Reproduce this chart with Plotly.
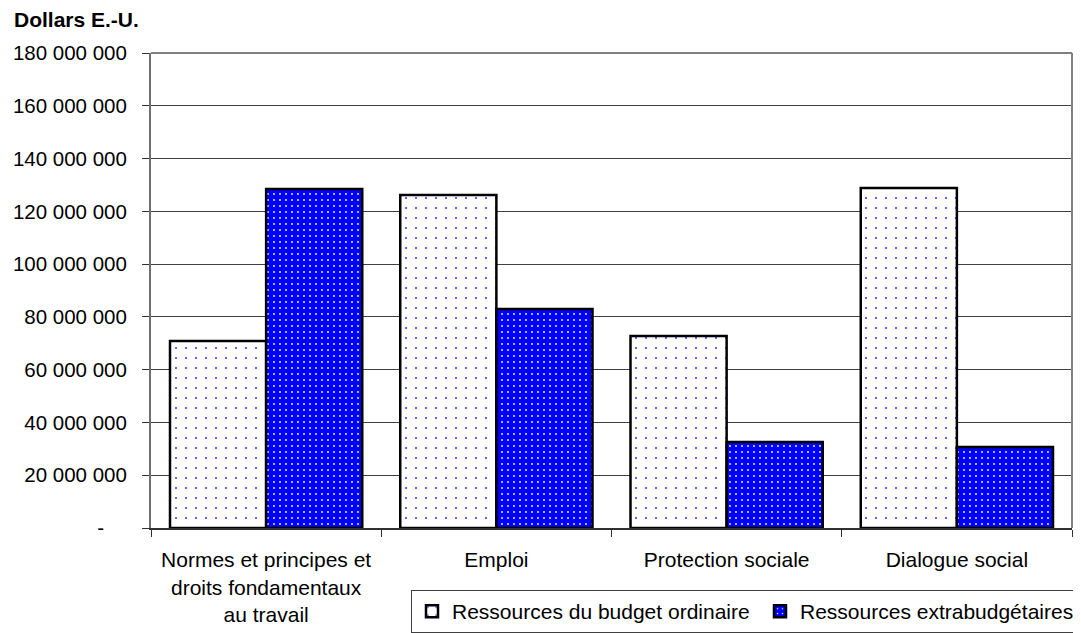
import plotly.graph_objects as go

categories = ["Normes et principes et<br>droits fondamentaux<br>au travail", "Emploi",
              "Protection sociale", "Dialogue social"]
budget_ordinaire = [70900000, 126200000, 72800000, 128800000]
extrabudgetaires = [128500000, 83000000, 32600000, 30700000]
tick_vals = [0, 20000000, 40000000, 60000000, 80000000, 100000000, 120000000,
             140000000, 160000000, 180000000]
tick_text = ["-\u00a0\u00a0\u00a0\u00a0", "20 000 000", "40 000 000", "60 000 000", "80 000 000",
             "100 000 000", "120 000 000", "140 000 000", "160 000 000", "180 000 000"]

FONT = "Liberation Sans, Arial, sans-serif"

# page body has an 8px default margin; figure sized to fit the 1081x633 window
W, H = 1073, 625
L, R, T, B = 143, 9, 45, 105
PW, PH = W - L - R, H - T - B

fig = go.Figure()
fig.add_trace(go.Bar(
    x=categories, y=budget_ordinaire, name="Ressources du budget ordinaire",
    marker=dict(color="white", line=dict(color="black", width=2.5),
                pattern=dict(shape=".", fgcolor="#3b3bff", bgcolor="white",
                             size=10, solidity=0.035, fillmode="replace")),
))
fig.add_trace(go.Bar(
    x=categories, y=extrabudgetaires, name="Ressources extrabudgétaires",
    marker=dict(color="#0000ff", line=dict(color="black", width=2.5),
                pattern=dict(shape=".", fgcolor="white", bgcolor="#0000ff",
                             size=6, solidity=0.07, fillmode="replace")),
))

fig.update_layout(
    width=W, height=H,
    margin=dict(l=L, r=R, t=T, b=B, autoexpand=False),
    paper_bgcolor="white", plot_bgcolor="white",
    font=dict(family=FONT, size=21, color="black"),
    barmode="group", bargap=0.165, bargroupgap=0,
    showlegend=True,
    legend=dict(orientation="h", x=(411 - 151) / PW, xanchor="left",
                y=-(590 - 528) / PH, yanchor="top",
                bgcolor="white", bordercolor="#404040", borderwidth=1,
                font=dict(family=FONT, size=21, color="black"),
                entrywidth=303, entrywidthmode="pixels", itemwidth=30,
                traceorder="normal"),
    xaxis=dict(showline=True, linecolor="#303030", linewidth=2, ticks="outside",
               tickson="boundaries", ticklen=7, tickcolor="#303030", tickwidth=1,
               showgrid=False, automargin=False, ticklabelstandoff=12,
               tickfont=dict(family=FONT, size=21, color="black")),
    yaxis=dict(range=[0, 180000000], tickvals=tick_vals, ticktext=tick_text,
               showline=True, linecolor="#707070", linewidth=2, ticks="outside",
               ticklen=7, tickcolor="#303030", tickwidth=1,
               showgrid=True, gridcolor="#404040", gridwidth=1,
               zeroline=False, ticklabelstandoff=11, automargin=False,
               tickfont=dict(family=FONT, size=20.5, color="black")),
    annotations=[dict(text="<b>Dollars E.-U.</b>", xref="paper", yref="paper",
                      x=(12 - 151) / PW, y=1 + (53 - 20) / PH,
                      xanchor="left", yanchor="middle", showarrow=False,
                      font=dict(family=FONT, size=21, color="black"))],
    shapes=[dict(type="line", xref="paper", yref="paper", x0=0, x1=1, y0=1, y1=1,
                 line=dict(color="#808080", width=2)),
            dict(type="line", xref="paper", yref="paper", x0=1, x1=1, y0=0, y1=1,
                 line=dict(color="#808080", width=2))],
)

fig.write_html("out.html")
